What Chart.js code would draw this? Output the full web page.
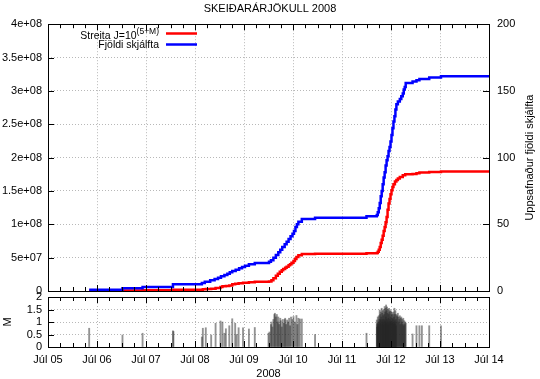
<!DOCTYPE html>
<html><head><meta charset="utf-8">
<script src="https://cdn.jsdelivr.net/npm/chart.js@4.4.1/dist/chart.umd.min.js"></script>
<style>
html,body{margin:0;padding:0;background:#fff;overflow:hidden;width:540px;height:379px}
#top{position:absolute;left:0;top:0}
#bot{position:absolute;left:0;top:290px}
</style></head><body>
<canvas id="top" width="540" height="300"></canvas>
<canvas id="bot" width="540" height="92"></canvas>
<script>
// ---------------- DATA ----------------
const chartTitle = 'SKEIÐARÁRJÖKULL 2008';
const xTitle = '2008';
const xTickValues = [0,1,2,3,4,5,6,7,8,9];
const xTickLabels = ['Júl 05','Júl 06','Júl 07','Júl 08','Júl 09','Júl 10','Júl 11','Júl 12','Júl 13','Júl 14'];
const leftTickValues = [0,5e7,1e8,1.5e8,2e8,2.5e8,3e8,3.5e8,4e8];
const leftTickLabels = ['0','5e+07','1e+08','1.5e+08','2e+08','2.5e+08','3e+08','3.5e+08','4e+08'];
const rightTickValues = [0,50,100,150,200];
const rightTickLabels = ['0','50','100','150','200'];
const magTickValues = [0,0.5,1,1.5,2];
const magTickLabels = ['0','0.5','1','1.5','2'];
const rightTitle = 'Uppsafnaður fjöldi skjálfta';
const magTitle = 'M';
const energyLabel = 'Streita J=10';
const energyLabelSup = '(5+M)';
const countLabel = 'Fjöldi skjálfta';

// cumulative number of earthquakes (days after Júl 05 00:00)
const countDays = [0.84,1.52,1.93,2.55,3.14,3.20,3.31,3.40,3.47,3.53,3.60,3.66,3.71,3.76,3.83,3.90,3.96,4.02,4.10,4.22,
  4.51,4.55,4.60,4.65,4.70,4.74,4.78,4.83,4.87,4.91,4.95,4.99,5.02,5.05,5.08,5.11,5.18,5.45,6.50,
  6.71,6.73,6.75,6.77,6.79,6.81,6.83,6.85,6.87,6.89,6.91,6.93,6.95,6.97,6.99,7.01,7.03,7.05,7.07,7.09,7.11,
  7.14,7.18,7.21,7.24,7.26,7.28,7.30,7.44,7.52,7.58,7.78,8.02,9.0];
const countValues = [1,2,3,5,6,7,8,9,10,11,12,13,14,15,16,17,18,19,20,21,
  22,23,25,27,29,31,33,35,37,39,41,43,45,48,50,52,54,55,56,
  57,59,62,66,71,75,80,85,89,94,98,101,105,108,112,117,122,127,131,136,140,
  142,144,146,148,151,153,156,157,158,159,160,161,161];

// cumulative strain J = sum 10^(5+M)
const energyDays = [0.84,1.52,1.93,2.55,3.16,3.22,3.33,3.42,3.52,3.56,3.63,3.70,3.76,3.82,3.89,3.98,4.10,4.22,
  4.51,4.56,4.60,4.65,4.69,4.73,4.77,4.80,4.84,4.87,4.91,4.94,4.97,5.01,5.04,5.07,5.11,5.18,5.45,6.50,
  6.71,6.73,6.75,6.77,6.79,6.81,6.83,6.85,6.87,6.89,6.91,6.93,6.95,6.97,6.99,7.01,7.03,7.05,7.08,7.11,7.14,7.18,7.24,7.29,
  7.44,7.52,7.58,7.78,8.02,9.0];
const energyValues = [5.6e5,8.6e5,1.2e6,1.9e6,2.5e6,3.1e6,3.5e6,4.5e6,6.0e6,7.0e6,7.6e6,8.3e6,1.0e7,1.1e7,1.16e7,1.24e7,1.3e7,1.37e7,
  1.42e7,1.6e7,1.9e7,2.3e7,2.6e7,2.9e7,3.1e7,3.3e7,3.5e7,3.65e7,3.85e7,4.0e7,4.25e7,4.5e7,4.8e7,5.1e7,5.35e7,5.55e7,5.6e7,5.65e7,
  5.7e7,5.9e7,6.2e7,6.6e7,7.2e7,7.7e7,8.3e7,9.0e7,9.6e7,1.03e8,1.11e8,1.22e8,1.31e8,1.38e8,1.45e8,1.51e8,1.56e8,1.60e8,1.64e8,1.665e8,1.685e8,1.71e8,1.735e8,1.75e8,
  1.755e8,1.765e8,1.775e8,1.785e8,1.79e8,1.79e8];

// individual earthquakes: time (days after Júl 05) and magnitude
const eventDays = [0.84,1.52,1.93,2.55,2.56,
  3.14,3.16,3.22,3.33,3.42,3.52,3.56,3.60,3.63,3.70,3.76,3.82,3.85,3.89,3.98,4.10,4.22,
  4.50,4.52,4.55,4.56,4.58,4.60,4.62,4.63,4.65,4.67,4.69,4.70,4.72,4.74,4.75,4.77,4.79,4.81,4.83,4.84,4.86,4.88,4.90,4.92,4.94,4.96,4.99,5.01,5.04,5.07,5.09,5.11,5.14,5.18,
  5.45,6.50,
  6.71,6.715,6.72,6.725,6.73,6.735,6.74,6.745,6.75,6.755,6.76,6.765,6.77,6.775,6.78,6.785,6.79,6.795,6.80,6.805,6.81,6.815,6.82,6.825,6.83,6.835,6.84,6.845,6.85,6.855,6.86,6.865,6.87,6.875,6.88,6.885,6.89,6.895,6.90,6.905,6.91,6.915,6.92,6.925,6.93,6.935,6.94,6.945,6.95,6.955,6.96,6.965,6.97,6.975,6.98,6.985,6.99,6.995,7.00,7.005,7.01,7.015,7.02,7.025,7.03,7.035,7.04,7.045,7.05,7.055,7.06,7.065,7.07,7.075,7.08,7.085,7.09,7.095,7.10,7.105,7.11,
  7.12,7.13,7.14,7.15,7.16,7.17,7.18,7.19,7.20,7.21,7.22,7.23,7.24,7.25,7.26,7.27,7.28,7.29,7.30,
  7.44,7.52,7.58,7.63,7.78,8.02];
const eventMags = [0.75,0.48,0.55,0.65,0.62,
  0.4,0.75,0.77,0.48,0.95,1.04,1.0,0.55,0.73,0.85,1.13,0.95,0.5,0.77,0.77,0.72,0.78,
  0.55,0.6,0.9,1.0,0.8,1.1,1.3,1.35,1.2,1.3,1.0,1.2,0.9,1.15,1.05,0.8,1.1,0.95,1.1,1.15,0.9,1.08,1.0,1.15,0.85,1.2,1.1,1.22,1.0,1.26,0.9,1.15,1.12,1.12,
  0.5,0.55,
  1.08,0.8,0.9,0.95,1.2,0.85,1.0,0.9,1.25,0.8,1.1,1.0,1.48,0.9,1.3,1.1,1.4,0.95,1.2,1.05,1.55,0.9,1.35,1.1,1.45,1.0,1.25,0.95,1.5,1.1,1.3,0.9,1.62,1.05,1.4,1.0,1.55,1.2,1.68,0.95,1.45,1.1,1.6,1.0,1.35,0.9,1.5,1.15,1.3,1.0,1.55,0.95,1.4,1.1,1.45,1.0,1.2,0.9,1.45,1.05,1.3,1.0,1.38,0.95,1.15,1.1,1.3,0.9,1.4,1.0,1.2,0.95,1.55,1.05,1.3,0.9,1.45,1.0,1.1,0.85,1.3,
  1.25,1.2,1.35,1.0,1.2,1.1,1.25,0.9,1.15,1.2,1.0,1.1,0.9,1.15,0.85,1.05,0.9,1.0,0.95,
  0.52,0.85,0.85,0.85,0.85,0.85];

// ---------------- STYLE / RENDER ----------------
const FONT = "'Liberation Sans', Arial, Helvetica, sans-serif";
Chart.defaults.font.family = FONT;
Chart.defaults.font.size = 11;
Chart.defaults.color = '#000';
const GRID = '#b8b8b8';
const NOCOL = 'rgba(0,0,0,0)';

function pts(xs, ys){ return xs.map((x,i)=>({x:x, y:ys[i]})); }
function fixTicks(values){ return s => { s.ticks = values.map(v=>({value:v})); }; }

const framePlugin = {
  id:'frame',
  afterDatasetsDraw(chart, args, opts){
    const {ctx, chartArea:a, scales} = chart;
    ctx.save();
    ctx.strokeStyle = '#000'; ctx.lineWidth = 1;
    ctx.beginPath();
    const xs = scales.x;
    for (let q = 0; q <= 36; q++) {
      const v = q/4;
      const px = Math.round(xs.getPixelForValue(v)) + 0.5;
      const len = (q % 4 === 0) ? 6 : 4;
      ctx.moveTo(px, a.bottom); ctx.lineTo(px, a.bottom - len);
      ctx.moveTo(px, a.top); ctx.lineTo(px, a.top + len);
    }
    (opts.left||[]).forEach(id => {
      const s = scales[id];
      s.ticks.forEach(t => { const py = Math.round(s.getPixelForValue(t.value)) + 0.5;
        ctx.moveTo(a.left, py); ctx.lineTo(a.left + 6, py); });
    });
    (opts.right||[]).forEach(id => {
      const s = scales[id];
      s.ticks.forEach(t => { const py = Math.round(s.getPixelForValue(t.value)) + 0.5;
        ctx.moveTo(a.right, py); ctx.lineTo(a.right - 6, py); });
    });
    ctx.stroke();
    ctx.strokeRect(Math.round(a.left)+0.5, Math.round(a.top)+0.5, Math.round(a.right - a.left), Math.round(a.bottom - a.top));
    ctx.restore();
  }
};

const legendPlugin = {
  id:'customLegend',
  afterDraw(chart){
    const ctx = chart.ctx;
    const ds = chart.data.datasets;
    const red = ds.find(d=>d.key==='energy'), blue = ds.find(d=>d.key==='count');
    ctx.save();
    ctx.fillStyle = '#000';
    ctx.textAlign = 'right';
    ctx.textBaseline = 'alphabetic';
    const right = 159;
    ctx.font = '8.5px ' + FONT;
    const supW = ctx.measureText(energyLabelSup).width;
    ctx.fillText(energyLabelSup, right, 34);
    ctx.font = '10.5px ' + FONT;
    ctx.fillText(energyLabel, right - supW, 38.5);
    ctx.fillText(countLabel, right, 47.5);
    ctx.lineWidth = 2.5;
    ctx.strokeStyle = red.borderColor;
    ctx.beginPath(); ctx.moveTo(166, 33.5); ctx.lineTo(197, 33.5); ctx.stroke();
    ctx.strokeStyle = blue.borderColor;
    ctx.beginPath(); ctx.moveTo(166, 44.5); ctx.lineTo(197, 44.5); ctx.stroke();
    // right axis title, reading bottom-to-top
    const a = chart.chartArea;
    ctx.font = '11px ' + FONT;
    ctx.textAlign = 'center'; ctx.textBaseline = 'middle';
    ctx.translate(530, (a.top + a.bottom)/2);
    ctx.rotate(-Math.PI/2);
    ctx.fillText(rightTitle, 0, 0);
    ctx.restore();
  }
};

const topChart = new Chart(document.getElementById('top'), {
  type:'line',
  data:{ datasets:[
    { key:'count', label:countLabel, data:pts(countDays, countValues), yAxisID:'y2', borderColor:'#0000ff', borderWidth:2.5, pointRadius:0, stepped:true, fill:false, order:1 },
    { key:'energy', label:energyLabel + energyLabelSup, data:pts(energyDays, energyValues), yAxisID:'y', borderColor:'#ff0000', borderWidth:2.5, pointRadius:0, stepped:true, fill:false, order:2 }
  ]},
  options:{
    responsive:false, animation:false, events:[],
    layout:{padding:0},
    plugins:{
      legend:{display:false}, tooltip:{enabled:false},
      title:{display:true, text:chartTitle, color:'#000', font:{size:11, weight:'normal'}, padding:{top:2, bottom:9}},
      frame:{left:['y'], right:['y2']}
    },
    scales:{
      x:{ type:'linear', min:0, max:9, afterBuildTicks:fixTicks(xTickValues),
          ticks:{display:false, padding:0}, grid:{color:GRID, drawTicks:false}, border:{display:false, dash:[1,2]},
          afterFit(s){ s.height = 9; } },
      y:{ position:'left', min:0, max:4e8, afterBuildTicks:fixTicks(leftTickValues),
          ticks:{padding:0, autoSkip:false, callback:(v,i)=>leftTickLabels[i]},
          grid:{color:GRID, drawTicks:true, tickLength:6, tickColor:NOCOL}, border:{display:false, dash:[1,2]},
          afterFit(s){ s.width = 48; } },
      y2:{ position:'right', min:0, max:200, afterBuildTicks:fixTicks(rightTickValues),
          ticks:{padding:0, autoSkip:false, callback:(v,i)=>rightTickLabels[i]},
          grid:{drawOnChartArea:false, drawTicks:true, tickLength:8, tickColor:NOCOL}, border:{display:false},
          afterFit(s){ s.width = 51; } }
    }
  },
  plugins:[framePlugin, legendPlugin]
});

const botChart = new Chart(document.getElementById('bot'), {
  type:'bar',
  data:{ datasets:[
    { label:magTitle, data:pts(eventDays, eventMags), backgroundColor:'rgba(40,40,40,0.5)', borderWidth:0, barThickness:1.2 }
  ]},
  options:{
    responsive:false, animation:false, events:[],
    layout:{padding:{top:7, right:51, left:0, bottom:0}},
    plugins:{ legend:{display:false}, tooltip:{enabled:false}, frame:{left:['y']} },
    scales:{
      x:{ type:'linear', min:0, max:9, offset:false, afterBuildTicks:fixTicks(xTickValues),
          ticks:{padding:6, maxRotation:0, autoSkip:false, callback:(v,i)=>xTickLabels[i]},
          grid:{color:GRID, drawTicks:false, offset:false}, border:{display:false, dash:[1,2]},
          title:{display:true, text:xTitle, font:{size:11}, padding:{top:0, bottom:1}},
          afterFit(s){ s.height = 35; } },
      y:{ position:'left', min:0, max:2, afterBuildTicks:fixTicks(magTickValues),
          ticks:{padding:0, autoSkip:false, callback:(v,i)=>magTickLabels[i]},
          grid:{color:GRID, drawTicks:true, tickLength:6, tickColor:NOCOL}, border:{display:false, dash:[1,2]},
          title:{display:true, text:magTitle, font:{size:11}, padding:{top:1, bottom:0}},
          afterFit(s){ s.width = 48; } }
    }
  },
  plugins:[framePlugin]
});
</script>
</body></html>
